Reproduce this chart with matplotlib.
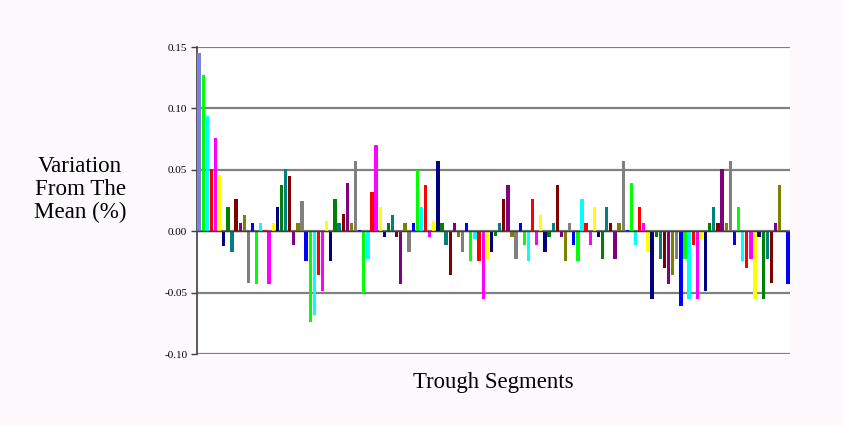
import numpy as np
import matplotlib.pyplot as plt

# variation from the mean for each trough segment
variation = [
    0.145, 0.127, 0.094, 0.051, 0.076, 0.046, -0.012, 0.020, -0.017, 0.026,
    0.007, 0.013, -0.042, 0.007, -0.043, 0.007, 0.001, -0.043, 0.007, 0.020,
    0.038, 0.051, 0.045, -0.011, 0.007, 0.025, -0.024, -0.074, -0.068, -0.036,
    -0.049, 0.008, -0.024, 0.026, 0.007, 0.014, 0.039, 0.007, 0.057, 0.001,
    -0.050, -0.023, 0.032, 0.070, 0.020, -0.005, 0.007, 0.013, -0.005, -0.043,
    0.007, -0.017, 0.007, 0.050, 0.020, 0.038, -0.005, 0.008, 0.057, 0.007,
    -0.011, -0.036, 0.007, -0.005, -0.017, 0.007, -0.024, -0.006, -0.024, -0.055,
    -0.023, -0.017, -0.004, 0.007, 0.026, 0.038, -0.005, -0.023, 0.007, -0.011,
    -0.024, 0.026, -0.011, 0.013, -0.017, -0.005, 0.007, 0.038, -0.005, -0.024,
    0.007, -0.011, -0.024, 0.026, 0.007, -0.011, 0.020, -0.005, -0.023, 0.020,
    0.007, -0.023, 0.007, 0.057, 0.001, 0.039, -0.011, 0.020, 0.007, -0.017,
    -0.055, -0.005, -0.023, -0.030, -0.043, -0.036, -0.023, -0.061, -0.023, -0.055,
    -0.011, -0.055, -0.006, -0.049, 0.007, 0.020, 0.007, 0.051, 0.007, 0.057,
    -0.011, 0.020, -0.024, -0.030, -0.023, -0.055, -0.005, -0.055, -0.023, -0.042,
    0.007, 0.038, 0.001, -0.043,
]
palette = ['#000080', '#008000', '#008080', '#800000', '#800080', '#808000',
           '#808080', '#0000FF', '#00FF00', '#00FFFF', '#FF0000', '#FF00FF',
           '#FFFF00']
y_ticks = [-0.10, -0.05, 0.00, 0.05, 0.10, 0.15]

bg = '#fdf9fc'
fig = plt.figure(figsize=(8.44, 4.26), dpi=100, facecolor=bg)
ax = fig.add_axes([0.2334, 0.169, 0.7026, 0.7205], facecolor='white')

x = np.arange(len(variation))
colors = [palette[(7 + i) % len(palette)] for i in x]
colors[0] = '#7f7fe8'  # first bar shows lighter in the original
ax.bar(x, variation, width=0.8, color=colors, zorder=3)

ax.set_xlim(-0.5, len(variation) - 0.5)
ax.set_ylim(-0.10, 0.15)
ax.set_yticks(y_ticks)
ax.set_yticklabels(['%.2f' % v for v in y_ticks], family='Liberation Serif', fontsize=8)
ax.set_xticks([])
ax.yaxis.grid(True, color='#808080', linewidth=1.6, zorder=0)
ax.axhline(0, color='#404040', linewidth=1.0, zorder=4)
ax.tick_params(axis='y', direction='out', length=4, width=1, color='#404040', pad=3)

for s in ['top', 'right', 'bottom']:
    ax.spines[s].set_visible(False)
ax.spines['left'].set_color('#404040')
ax.spines['left'].set_linewidth(1.2)

fig.text(0.095, 0.555, 'Variation\nFrom The\nMean (%)', ha='center', va='center',
         multialignment='center', family='Liberation Serif', fontsize=16.6,
         linespacing=1.1)
fig.text(0.584, 0.101, 'Trough Segments', ha='center', va='center',
         family='Liberation Serif', fontsize=16.4)

fig.savefig('out.png', dpi=100, facecolor=bg)
